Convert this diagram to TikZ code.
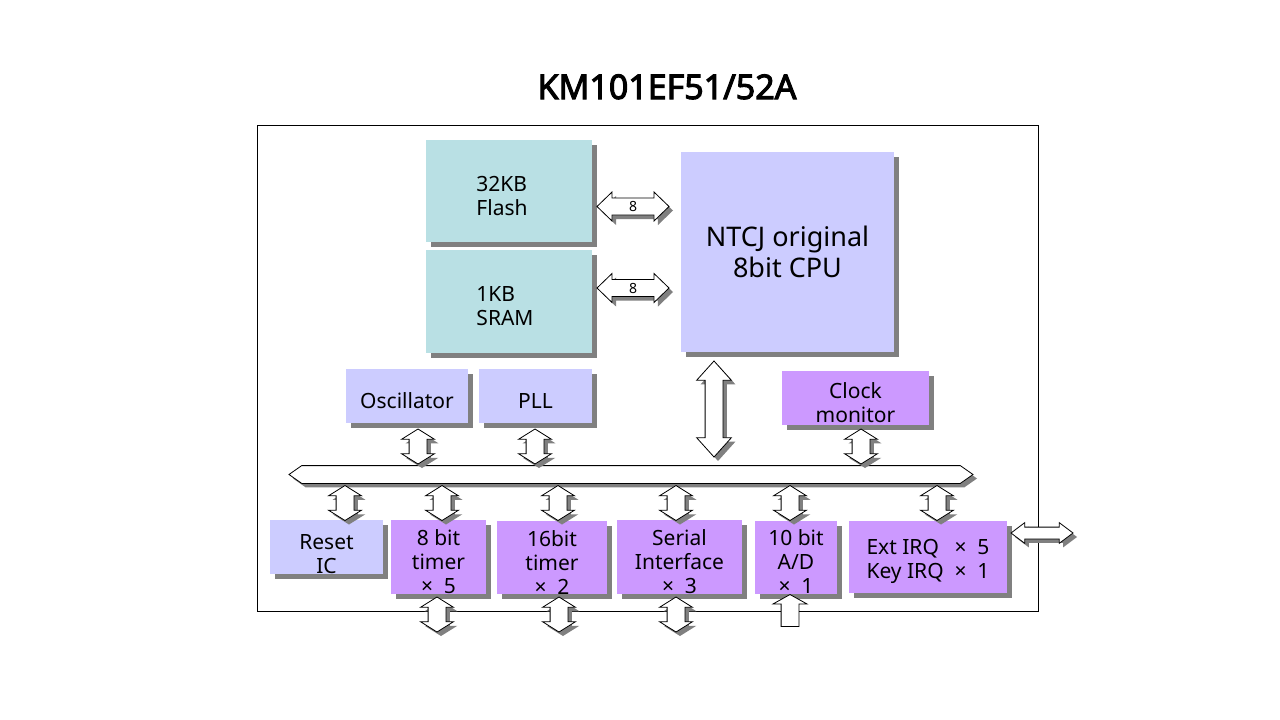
\documentclass[tikz,border=0pt]{standalone}
\usepackage{fontspec}
\setmainfont{Noto Sans}
\newfontfamily\titlefont{Noto Sans}[FakeBold=3]
\usetikzlibrary{shapes.arrows}
\usetikzlibrary{shadows}
\usepackage{xcolor}

\definecolor{memcol}{RGB}{185,224,228}
\definecolor{cpucol}{RGB}{204,204,255}
\definecolor{pericol}{RGB}{204,153,255}
\definecolor{shcol}{RGB}{128,128,128}
\newcommand{\tstrut}{\rule{0pt}{25pt}}

\begin{document}
\begin{tikzpicture}[x=1pt,y=-1pt,
  box/.style={inner sep=0pt, align=center, font=\fontsize{21}{24}\selectfont,
    drop shadow={shadow xshift=5pt, shadow yshift=-5pt, fill=shcol, opacity=1}},
  mem/.style={box, fill=memcol, minimum width=166pt, align=left},
  cpu/.style={box, fill=cpucol},
  peri/.style={box, fill=pericol, minimum height=72pt},
  arr/.style={draw=black, fill=white, line width=0.8pt, inner sep=0pt},
  sharr/.style={arr, drop shadow={shadow xshift=4pt, shadow yshift=-4pt, fill=shcol, opacity=1}},
  vlink/.style={sharr, double arrow, shape border rotate=90, minimum height=35pt,
    inner sep=8.5pt, double arrow head extend=7.5pt, double arrow tip angle=116},
  hlink/.style={sharr, double arrow, minimum height=72pt, inner xsep=0pt, inner ysep=3pt,
    double arrow head extend=6pt, double arrow tip angle=88, font=\fontsize{14}{14}\selectfont}]
  \useasboundingbox (0,0) rectangle (1280,720);
  \node[font=\titlefont\fontsize{34}{38}\selectfont, anchor=base] (title) at (667,99) {KM101EF51/52A};
  \node[draw, line width=0.8pt, minimum width=781pt, minimum height=486pt] (chip) at (647.5,368) {};

    \node[mem, minimum height=102pt] (flash) at (509,191) {\tstrut 32KB\\Flash\hspace*{14pt}};
    \node[mem, minimum height=103pt] (sram) at (509,301.5) {\tstrut 1KB\\SRAM\hspace*{8pt}};
    \node[cpu, minimum width=213pt, minimum height=200pt,
      font=\fontsize{27}{31}\selectfont] (cpu) at (787.5,252) {NTCJ original\\8bit CPU};
    \node[cpu, minimum width=122pt, minimum height=54pt] (osc) at (407,396) {\tstrut Oscillator};
    \node[cpu, minimum width=113pt, minimum height=54pt] (pll) at (535.5,396) {\tstrut PLL};
    \node[peri, minimum width=147pt, minimum height=54pt] (clkmon) at (855.5,398) {\tstrut Clock\\monitor};

    \node[sharr, double arrow, minimum height=684pt, inner sep=8.5pt,
      double arrow head extend=0pt, double arrow tip angle=70] (bus) at (631,474.5) {};

    \node[cpu, minimum width=113pt, minimum height=54pt] (reset) at (326.5,547) {\rule{0pt}{29pt}Reset\\IC};
    \node[peri, minimum width=95pt] (tmr8) at (438.5,557) {\tstrut 8 bit\\timer\\×~~5};
    \node[peri, minimum width=110pt, minimum height=71pt] (tmr16) at (552,557.5) {\tstrut 16bit\\timer\\×~~2};
    \node[peri, minimum width=125pt] (sci) at (679.5,557) {\tstrut Serial\\Interface\\×~~3};
    \node[peri, minimum width=82pt] (adc) at (796,557) {\tstrut 10 bit\\A/D\\×~~1};
    \node[peri, minimum width=158pt, align=left] (irq) at (928,557)
      {\tstrut\makebox[88pt][l]{Ext IRQ}×~~5\\\makebox[88pt][l]{Key IRQ}×~~1};

    \node[hlink] (flashlink) at (633,206.5) {8};
    \node[hlink] (sramlink) at (633,288) {8};
    \node[sharr, double arrow, shape border rotate=90, minimum height=96pt, inner sep=8.5pt,
      double arrow head extend=8.5pt, double arrow tip angle=84] (cpulink) at (714,409) {};
    \node[vlink] (osclink) at (418,446.5) {};
    \node[vlink] (plllink) at (535,446.5) {};
    \node[vlink] (clklink) at (861,446.5) {};
    \node[vlink] (rstlink) at (345,503) {};
    \node[vlink] (t8link) at (442,503) {};
    \node[vlink] (t16link) at (558,503) {};
    \node[vlink] (scilink) at (676,503) {};
    \node[vlink] (adlink) at (790,503) {};
    \node[vlink] (irqlink) at (937,503) {};
    \node[vlink] (t8out) at (437,614.5) {};
    \node[vlink] (t16out) at (559,614.5) {};
    \node[vlink] (sciout) at (676,614.5) {};
    \node[arr, single arrow, shape border rotate=90, minimum height=32pt, inner sep=8.5pt,
      single arrow head extend=8pt, single arrow tip angle=122] (adin) at (790,613) {};
    \node[sharr, double arrow, minimum height=62pt, inner xsep=0pt, inner ysep=5.5pt,
      double arrow head extend=4.5pt, double arrow tip angle=74] (irqout) at (1042,533) {};
\end{tikzpicture}
\end{document}
